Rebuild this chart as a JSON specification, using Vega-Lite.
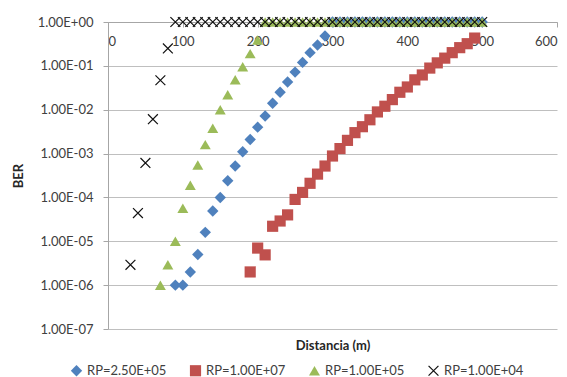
{
  "$schema": "https://vega.github.io/schema/vega-lite/v6.json",
  "width": 449,
  "height": 307,
  "autosize": {"type": "none"},
  "padding": {"left": 108, "top": 22, "right": 10, "bottom": 48},
  "background": "white",
  "config": {
    "view": {"stroke": null},
    "font": "Lato",
    "axis": {"labelFont": "Lato", "titleFont": "Lato", "labelColor": "#404040", "titleColor": "#262626"}
  },
  "data": {
    "values": [
      {"series": "RP=2.50E+05", "distance": 90, "ber": 1.0e-6},
      {"series": "RP=2.50E+05", "distance": 100, "ber": 1.0e-6},
      {"series": "RP=2.50E+05", "distance": 110, "ber": 2.0e-6},
      {"series": "RP=2.50E+05", "distance": 120, "ber": 5.0e-6},
      {"series": "RP=2.50E+05", "distance": 130, "ber": 1.6e-5},
      {"series": "RP=2.50E+05", "distance": 140, "ber": 4.9e-5},
      {"series": "RP=2.50E+05", "distance": 150, "ber": 1.0e-4},
      {"series": "RP=2.50E+05", "distance": 160, "ber": 2.4e-4},
      {"series": "RP=2.50E+05", "distance": 170, "ber": 5.2e-4},
      {"series": "RP=2.50E+05", "distance": 180, "ber": 1.1e-3},
      {"series": "RP=2.50E+05", "distance": 190, "ber": 2.1e-3},
      {"series": "RP=2.50E+05", "distance": 200, "ber": 4.0e-3},
      {"series": "RP=2.50E+05", "distance": 210, "ber": 7.2e-3},
      {"series": "RP=2.50E+05", "distance": 220, "ber": 1.4e-2},
      {"series": "RP=2.50E+05", "distance": 230, "ber": 2.5e-2},
      {"series": "RP=2.50E+05", "distance": 240, "ber": 4.3e-2},
      {"series": "RP=2.50E+05", "distance": 250, "ber": 7.2e-2},
      {"series": "RP=2.50E+05", "distance": 260, "ber": 0.12},
      {"series": "RP=2.50E+05", "distance": 270, "ber": 0.2},
      {"series": "RP=2.50E+05", "distance": 280, "ber": 0.3},
      {"series": "RP=2.50E+05", "distance": 290, "ber": 0.48},
      {"series": "RP=2.50E+05", "distance": 300, "ber": 1},
      {"series": "RP=2.50E+05", "distance": 310, "ber": 1},
      {"series": "RP=2.50E+05", "distance": 320, "ber": 1},
      {"series": "RP=2.50E+05", "distance": 330, "ber": 1},
      {"series": "RP=2.50E+05", "distance": 340, "ber": 1},
      {"series": "RP=2.50E+05", "distance": 350, "ber": 1},
      {"series": "RP=2.50E+05", "distance": 360, "ber": 1},
      {"series": "RP=2.50E+05", "distance": 370, "ber": 1},
      {"series": "RP=2.50E+05", "distance": 380, "ber": 1},
      {"series": "RP=2.50E+05", "distance": 390, "ber": 1},
      {"series": "RP=2.50E+05", "distance": 400, "ber": 1},
      {"series": "RP=2.50E+05", "distance": 410, "ber": 1},
      {"series": "RP=2.50E+05", "distance": 420, "ber": 1},
      {"series": "RP=2.50E+05", "distance": 430, "ber": 1},
      {"series": "RP=2.50E+05", "distance": 440, "ber": 1},
      {"series": "RP=2.50E+05", "distance": 450, "ber": 1},
      {"series": "RP=2.50E+05", "distance": 460, "ber": 1},
      {"series": "RP=2.50E+05", "distance": 470, "ber": 1},
      {"series": "RP=2.50E+05", "distance": 480, "ber": 1},
      {"series": "RP=2.50E+05", "distance": 490, "ber": 1},
      {"series": "RP=2.50E+05", "distance": 500, "ber": 1},
      {"series": "RP=1.00E+07", "distance": 190, "ber": 2.0e-6},
      {"series": "RP=1.00E+07", "distance": 200, "ber": 7.0e-6},
      {"series": "RP=1.00E+07", "distance": 210, "ber": 4.9e-6},
      {"series": "RP=1.00E+07", "distance": 220, "ber": 2.2e-5},
      {"series": "RP=1.00E+07", "distance": 230, "ber": 2.9e-5},
      {"series": "RP=1.00E+07", "distance": 240, "ber": 4.0e-5},
      {"series": "RP=1.00E+07", "distance": 250, "ber": 9.0e-5},
      {"series": "RP=1.00E+07", "distance": 260, "ber": 1.3e-4},
      {"series": "RP=1.00E+07", "distance": 270, "ber": 2.1e-4},
      {"series": "RP=1.00E+07", "distance": 280, "ber": 3.4e-4},
      {"series": "RP=1.00E+07", "distance": 290, "ber": 5.2e-4},
      {"series": "RP=1.00E+07", "distance": 300, "ber": 8.8e-4},
      {"series": "RP=1.00E+07", "distance": 310, "ber": 1.3e-3},
      {"series": "RP=1.00E+07", "distance": 320, "ber": 2.0e-3},
      {"series": "RP=1.00E+07", "distance": 330, "ber": 3.0e-3},
      {"series": "RP=1.00E+07", "distance": 340, "ber": 4.1e-3},
      {"series": "RP=1.00E+07", "distance": 350, "ber": 5.9e-3},
      {"series": "RP=1.00E+07", "distance": 360, "ber": 8.9e-3},
      {"series": "RP=1.00E+07", "distance": 370, "ber": 1.2e-2},
      {"series": "RP=1.00E+07", "distance": 380, "ber": 1.7e-2},
      {"series": "RP=1.00E+07", "distance": 390, "ber": 2.5e-2},
      {"series": "RP=1.00E+07", "distance": 400, "ber": 3.3e-2},
      {"series": "RP=1.00E+07", "distance": 410, "ber": 4.8e-2},
      {"series": "RP=1.00E+07", "distance": 420, "ber": 6.2e-2},
      {"series": "RP=1.00E+07", "distance": 430, "ber": 8.9e-2},
      {"series": "RP=1.00E+07", "distance": 440, "ber": 0.117},
      {"series": "RP=1.00E+07", "distance": 450, "ber": 0.15},
      {"series": "RP=1.00E+07", "distance": 460, "ber": 0.2},
      {"series": "RP=1.00E+07", "distance": 470, "ber": 0.26},
      {"series": "RP=1.00E+07", "distance": 480, "ber": 0.32},
      {"series": "RP=1.00E+07", "distance": 490, "ber": 0.43},
      {"series": "RP=1.00E+05", "distance": 70, "ber": 1.0e-6},
      {"series": "RP=1.00E+05", "distance": 80, "ber": 2.9e-6},
      {"series": "RP=1.00E+05", "distance": 90, "ber": 1.0e-5},
      {"series": "RP=1.00E+05", "distance": 100, "ber": 5.7e-5},
      {"series": "RP=1.00E+05", "distance": 110, "ber": 1.9e-4},
      {"series": "RP=1.00E+05", "distance": 120, "ber": 5.5e-4},
      {"series": "RP=1.00E+05", "distance": 130, "ber": 1.6e-3},
      {"series": "RP=1.00E+05", "distance": 140, "ber": 3.8e-3},
      {"series": "RP=1.00E+05", "distance": 150, "ber": 1.0e-2},
      {"series": "RP=1.00E+05", "distance": 160, "ber": 2.2e-2},
      {"series": "RP=1.00E+05", "distance": 170, "ber": 4.8e-2},
      {"series": "RP=1.00E+05", "distance": 180, "ber": 9.5e-2},
      {"series": "RP=1.00E+05", "distance": 190, "ber": 0.19},
      {"series": "RP=1.00E+05", "distance": 200, "ber": 0.39},
      {"series": "RP=1.00E+05", "distance": 210, "ber": 1},
      {"series": "RP=1.00E+05", "distance": 220, "ber": 1},
      {"series": "RP=1.00E+05", "distance": 230, "ber": 1},
      {"series": "RP=1.00E+05", "distance": 240, "ber": 1},
      {"series": "RP=1.00E+05", "distance": 250, "ber": 1},
      {"series": "RP=1.00E+05", "distance": 260, "ber": 1},
      {"series": "RP=1.00E+05", "distance": 270, "ber": 1},
      {"series": "RP=1.00E+05", "distance": 280, "ber": 1},
      {"series": "RP=1.00E+05", "distance": 290, "ber": 1},
      {"series": "RP=1.00E+05", "distance": 300, "ber": 1},
      {"series": "RP=1.00E+05", "distance": 310, "ber": 1},
      {"series": "RP=1.00E+05", "distance": 320, "ber": 1},
      {"series": "RP=1.00E+05", "distance": 330, "ber": 1},
      {"series": "RP=1.00E+05", "distance": 340, "ber": 1},
      {"series": "RP=1.00E+05", "distance": 350, "ber": 1},
      {"series": "RP=1.00E+05", "distance": 360, "ber": 1},
      {"series": "RP=1.00E+05", "distance": 370, "ber": 1},
      {"series": "RP=1.00E+05", "distance": 380, "ber": 1},
      {"series": "RP=1.00E+05", "distance": 390, "ber": 1},
      {"series": "RP=1.00E+05", "distance": 400, "ber": 1},
      {"series": "RP=1.00E+05", "distance": 410, "ber": 1},
      {"series": "RP=1.00E+05", "distance": 420, "ber": 1},
      {"series": "RP=1.00E+05", "distance": 430, "ber": 1},
      {"series": "RP=1.00E+05", "distance": 440, "ber": 1},
      {"series": "RP=1.00E+05", "distance": 450, "ber": 1},
      {"series": "RP=1.00E+05", "distance": 460, "ber": 1},
      {"series": "RP=1.00E+05", "distance": 470, "ber": 1},
      {"series": "RP=1.00E+05", "distance": 480, "ber": 1},
      {"series": "RP=1.00E+05", "distance": 490, "ber": 1},
      {"series": "RP=1.00E+05", "distance": 500, "ber": 1},
      {"series": "RP=1.00E+04", "distance": 30, "ber": 2.9e-6},
      {"series": "RP=1.00E+04", "distance": 40, "ber": 4.4e-5},
      {"series": "RP=1.00E+04", "distance": 50, "ber": 6.1e-4},
      {"series": "RP=1.00E+04", "distance": 60, "ber": 6.1e-3},
      {"series": "RP=1.00E+04", "distance": 70, "ber": 4.7e-2},
      {"series": "RP=1.00E+04", "distance": 80, "ber": 0.25},
      {"series": "RP=1.00E+04", "distance": 90, "ber": 1},
      {"series": "RP=1.00E+04", "distance": 100, "ber": 1},
      {"series": "RP=1.00E+04", "distance": 110, "ber": 1},
      {"series": "RP=1.00E+04", "distance": 120, "ber": 1},
      {"series": "RP=1.00E+04", "distance": 130, "ber": 1},
      {"series": "RP=1.00E+04", "distance": 140, "ber": 1},
      {"series": "RP=1.00E+04", "distance": 150, "ber": 1},
      {"series": "RP=1.00E+04", "distance": 160, "ber": 1},
      {"series": "RP=1.00E+04", "distance": 170, "ber": 1},
      {"series": "RP=1.00E+04", "distance": 180, "ber": 1},
      {"series": "RP=1.00E+04", "distance": 190, "ber": 1},
      {"series": "RP=1.00E+04", "distance": 200, "ber": 1},
      {"series": "RP=1.00E+04", "distance": 210, "ber": 1},
      {"series": "RP=1.00E+04", "distance": 220, "ber": 1},
      {"series": "RP=1.00E+04", "distance": 230, "ber": 1},
      {"series": "RP=1.00E+04", "distance": 240, "ber": 1},
      {"series": "RP=1.00E+04", "distance": 250, "ber": 1},
      {"series": "RP=1.00E+04", "distance": 260, "ber": 1},
      {"series": "RP=1.00E+04", "distance": 270, "ber": 1},
      {"series": "RP=1.00E+04", "distance": 280, "ber": 1},
      {"series": "RP=1.00E+04", "distance": 290, "ber": 1},
      {"series": "RP=1.00E+04", "distance": 300, "ber": 1},
      {"series": "RP=1.00E+04", "distance": 310, "ber": 1},
      {"series": "RP=1.00E+04", "distance": 320, "ber": 1},
      {"series": "RP=1.00E+04", "distance": 330, "ber": 1},
      {"series": "RP=1.00E+04", "distance": 340, "ber": 1},
      {"series": "RP=1.00E+04", "distance": 350, "ber": 1},
      {"series": "RP=1.00E+04", "distance": 360, "ber": 1},
      {"series": "RP=1.00E+04", "distance": 370, "ber": 1},
      {"series": "RP=1.00E+04", "distance": 380, "ber": 1},
      {"series": "RP=1.00E+04", "distance": 390, "ber": 1},
      {"series": "RP=1.00E+04", "distance": 400, "ber": 1},
      {"series": "RP=1.00E+04", "distance": 410, "ber": 1},
      {"series": "RP=1.00E+04", "distance": 420, "ber": 1},
      {"series": "RP=1.00E+04", "distance": 430, "ber": 1},
      {"series": "RP=1.00E+04", "distance": 440, "ber": 1},
      {"series": "RP=1.00E+04", "distance": 450, "ber": 1},
      {"series": "RP=1.00E+04", "distance": 460, "ber": 1},
      {"series": "RP=1.00E+04", "distance": 470, "ber": 1},
      {"series": "RP=1.00E+04", "distance": 480, "ber": 1},
      {"series": "RP=1.00E+04", "distance": 490, "ber": 1},
      {"series": "RP=1.00E+04", "distance": 500, "ber": 1}
    ]
  },
  "mark": {"type": "point", "filled": true, "opacity": 1},
  "encoding": {
    "x": {
      "field": "distance",
      "type": "quantitative",
      "scale": {"domain": [0, 600], "nice": false},
      "axis": {
        "orient": "bottom",
        "offset": -307,
        "values": [0, 100, 200, 300, 400, 500, 600],
        "grid": false,
        "domainColor": "#A6A6A6",
        "tickColor": "#A6A6A6",
        "tickSize": 5,
        "labelFontSize": 13,
        "labelPadding": 8,
        "title": "Distancia (m)",
        "titleFontSize": 13,
        "titleFontWeight": "bold",
        "titleBaseline": "middle",
        "titleY": 323
      }
    },
    "y": {
      "field": "ber",
      "type": "quantitative",
      "scale": {"type": "log", "domain": [1e-7, 1], "nice": false},
      "axis": {
        "values": [1e-7, 1e-6, 1e-5, 1e-4, 1e-3, 1e-2, 1e-1, 1],
        "labelExpr": "'1.00E' + (round(log(datum.value)/LN10) >= 0 ? '+' : '-') + '0' + abs(round(log(datum.value)/LN10))",
        "grid": true,
        "gridColor": "#BFBFBF",
        "domainColor": "#A6A6A6",
        "tickColor": "#A6A6A6",
        "tickSize": 5,
        "labelFontSize": 13,
        "labelPadding": 10,
        "title": "BER",
        "titleFontSize": 13,
        "titleFontWeight": "bold",
        "titlePadding": 12
      }
    },
    "color": {
      "field": "series",
      "type": "nominal",
      "scale": {
        "domain": ["RP=2.50E+05", "RP=1.00E+07", "RP=1.00E+05", "RP=1.00E+04"],
        "range": ["#4F81BD", "#C0504D", "#9BBB59", "#111111"]
      },
      "legend": {
        "title": null,
        "orient": "none",
        "legendX": -38,
        "legendY": 342,
        "direction": "horizontal",
        "columns": 4,
        "columnPadding": 22,
        "symbolSize": 60,
        "labelFont": "Lato",
        "labelFontSize": 13,
        "labelColor": "#404040",
        "labelOffset": 4
      }
    },
    "shape": {
      "field": "series",
      "type": "nominal",
      "scale": {
        "domain": ["RP=2.50E+05", "RP=1.00E+07", "RP=1.00E+05", "RP=1.00E+04"],
        "range": ["diamond", "square", "triangle-up", "M-1,-0.84L-0.84,-1L1,0.84L0.84,1Z M1,-0.84L-0.84,1L-1,0.84L0.84,-1Z"]
      }
    },
    "size": {
      "field": "series",
      "type": "nominal",
      "scale": {
        "domain": ["RP=2.50E+05", "RP=1.00E+07", "RP=1.00E+05", "RP=1.00E+04"],
        "range": [130, 115, 150, 140]
      },
      "legend": null
    }
  }
}
